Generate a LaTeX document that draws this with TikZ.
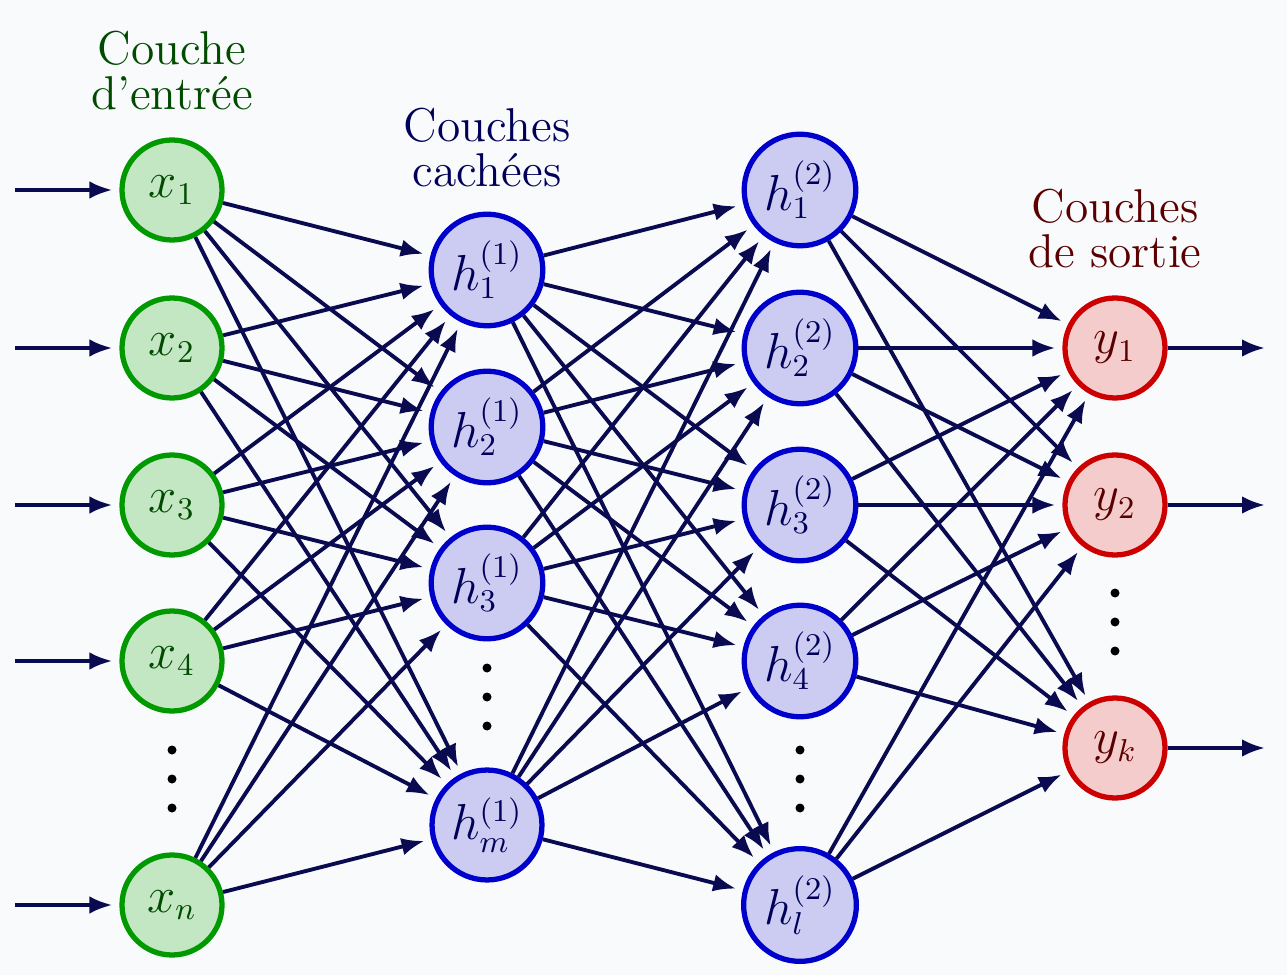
\documentclass[tikz,border=0pt]{standalone}
\usetikzlibrary{positioning,arrows.meta}
\definecolor{incol}{RGB}{0,153,0}
\definecolor{infill}{RGB}{195,230,195}
\definecolor{intext}{RGB}{0,75,0}
\definecolor{hidcol}{RGB}{0,0,204}
\definecolor{hidfill}{RGB}{204,204,243}
\definecolor{hidtext}{RGB}{0,0,90}
\definecolor{outcol}{RGB}{204,0,0}
\definecolor{outfill}{RGB}{245,204,204}
\definecolor{outtext}{RGB}{90,0,0}
\definecolor{linkcol}{RGB}{10,10,80}
\definecolor{bgcol}{RGB}{249,250,251}

\begin{document}
\begin{tikzpicture}
        \tikzset{every node/.style={font=\fontsize{13.5}{12.8}\selectfont},
          neuron/.style={circle,line width=1.5pt,minimum size=1cm,inner sep=2pt},
          innode/.style={neuron,draw=incol,fill=infill,text=intext},
          hidnode/.style={neuron,draw=hidcol,fill=hidfill,text=hidtext},
          outnode/.style={neuron,draw=outcol,fill=outfill,text=outtext},
          link/.style={line width=1.1pt,draw=linkcol,-{Latex[length=6.5pt,width=5pt]},shorten >=2pt},
          layertitle/.style={align=center}};
        \fill[bgcol] (0,0) rectangle (12.87,9.75);
        % entree
        \node[innode] (x1) at (1.72,7.85) {$x_1$};
        \node[innode] (x2) at (1.72,6.27) {$x_2$};
        \node[innode] (x3) at (1.72,4.70) {$x_3$};
        \node[innode] (x4) at (1.72,3.14) {$x_4$};
        \node[innode] (xn) at (1.72,0.70) {$x_n$};
        \coordinate (xdots) at (1.72,1.96);
        % premiere couche cachee
        \node[hidnode] (ha1) at (4.87,7.05) {$h_1^{(1)}$};
        \node[hidnode] (ha2) at (4.87,5.48) {$h_2^{(1)}$};
        \node[hidnode] (ha3) at (4.87,3.92) {$h_3^{(1)}$};
        \node[hidnode] (ham) at (4.87,1.50) {$h_m^{(1)}$};
        \coordinate (hadots) at (4.87,2.78);
        % deuxieme couche cachee
        \node[hidnode] (hb1) at (8.00,7.85) {$h_1^{(2)}$};
        \node[hidnode] (hb2) at (8.00,6.27) {$h_2^{(2)}$};
        \node[hidnode] (hb3) at (8.00,4.70) {$h_3^{(2)}$};
        \node[hidnode] (hb4) at (8.00,3.14) {$h_4^{(2)}$};
        \node[hidnode] (hbl) at (8.00,0.70) {$h_l^{(2)}$};
        \coordinate (hbdots) at (8.00,1.96);
        % sortie
        \node[outnode] (y1) at (11.15,6.27) {$y_1$};
        \node[outnode] (y2) at (11.15,4.70) {$y_2$};
        \node[outnode] (yk) at (11.15,2.27) {$y_k$};
        \coordinate (ydots) at (11.15,3.53);
        % points de suspension
        \foreach \c in {xdots,hadots,hbdots,ydots}
          \foreach \d in {-0.29,0,0.29}
            \fill ([yshift=\d cm]\c) circle (0.045);
        % titres
        \node[layertitle,text=intext,above=0.15cm of x1] (intitle) {Couche\\d'entrée};
        \node[layertitle,text=hidtext,above=0.12cm of ha1] (hidtitle) {Couches\\cachées};
        \node[layertitle,text=outtext,above=0.15cm of y1] (outtitle) {Couches\\de sortie};
        % connexions
        \foreach \a in {x1,x2,x3,x4,xn}
          \foreach \b in {ha1,ha2,ha3,ham}
            \draw[link] (\a) -- (\b);
        \foreach \a in {ha1,ha2,ha3,ham}
          \foreach \b in {hb1,hb2,hb3,hb4,hbl}
            \draw[link] (\a) -- (\b);
        \foreach \a in {hb1,hb2,hb3,hb4,hbl}
          \foreach \b in {y1,y2,yk}
            \draw[link] (\a) -- (\b);
        % entrees et sorties
        \foreach \a in {x1,x2,x3,x4,xn} {
          \coordinate (in-\a) at ([xshift=-1.57cm]\a.center);
          \draw[link] (in-\a) -- (\a);
        }
        \foreach \a in {y1,y2,yk} {
          \coordinate (out-\a) at ([xshift=1.5cm]\a.center);
          \draw[link,shorten >=0pt] (\a) -- (out-\a);
        }
\end{tikzpicture}
\end{document}
